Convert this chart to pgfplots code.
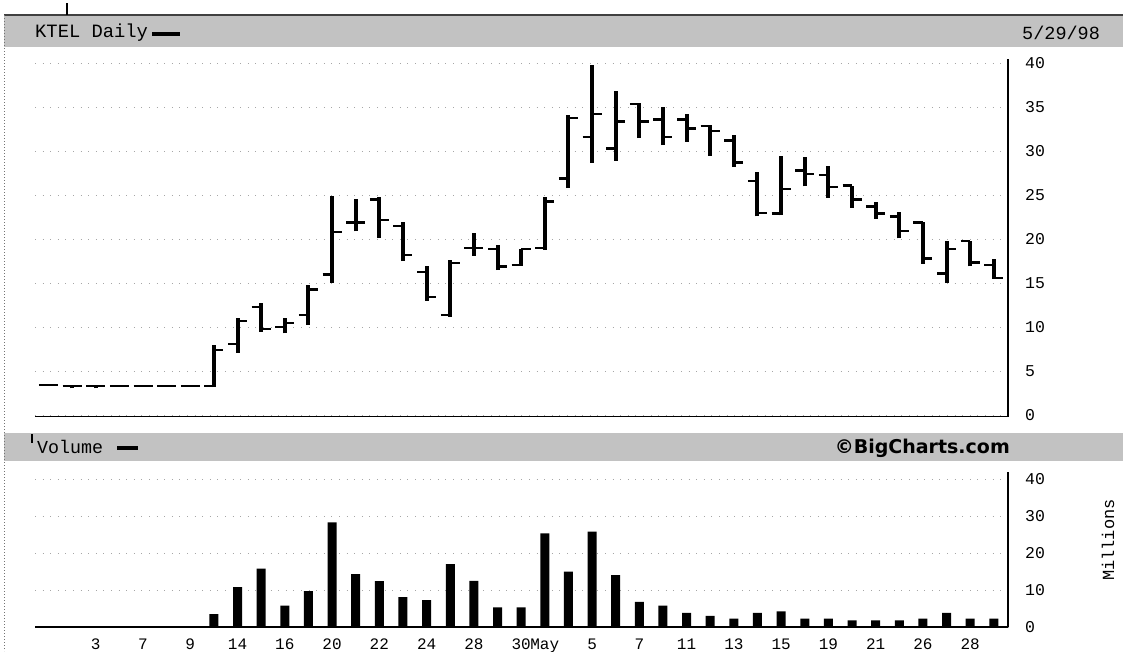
\documentclass[border=0pt]{standalone}
\usepackage{fontspec}
\setmainfont{Liberation Sans}
\newfontfamily\mono{Liberation Mono}
\newfontfamily\dvb{DejaVu Sans}
\usepackage{pgfplots}
\usepackage{pgfplotstable}
\pgfplotsset{compat=1.18}
\pgfdeclareplotmark{otick}{\pgfpathmoveto{\pgfpoint{-9.5pt}{0pt}}\pgfpathlineto{\pgfpoint{0pt}{0pt}}\pgfusepathqstroke}
\pgfdeclareplotmark{ctick}{\pgfpathmoveto{\pgfpoint{0pt}{0pt}}\pgfpathlineto{\pgfpoint{9.5pt}{0pt}}\pgfusepathqstroke}

% i = trading day (Apr 1 1998 = 0 ... May 29 1998 = 40); OHLC price, v = volume (millions)
\pgfplotstableread{
i o h l c v
0 3.45 3.5 3.4 3.45 0
1 3.3 3.3 3.05 3.3 0
2 3.3 3.3 3.05 3.3 0
3 3.3 3.35 3.3 3.3 0
4 3.3 3.35 3.3 3.3 0
5 3.3 3.35 3.3 3.3 0
6 3.3 3.35 3.3 3.3 0
7 3.3 8.0 3.2 7.4 3.5
8 8.1 11.0 7.1 10.7 10.8
9 12.3 12.8 9.5 9.8 15.8
10 10.0 11.0 9.3 10.5 5.8
11 11.4 14.8 10.3 14.3 9.7
12 16.0 24.9 15.0 20.8 28.3
13 21.9 24.6 20.9 21.9 14.3
14 24.5 24.8 20.1 22.2 12.4
15 21.5 22.0 17.5 18.2 8.1
16 16.3 17.0 13.0 13.4 7.3
17 11.4 17.6 11.2 17.3 17.0
18 19.0 20.7 18.1 19.0 12.5
19 18.9 19.3 16.5 16.9 5.3
20 17.1 18.9 17.0 18.9 5.3
21 19.0 24.8 18.8 24.3 25.3
22 26.9 34.1 25.8 33.8 15.0
23 31.6 39.8 28.7 34.2 25.8
24 30.3 36.9 28.9 33.4 14.0
25 35.4 35.5 31.5 33.4 6.8
26 33.6 35.0 30.7 31.6 5.8
27 33.6 34.2 31.1 32.6 3.8
28 32.9 33.0 29.5 32.3 3.0
29 31.2 31.8 28.2 28.7 2.3
30 26.6 27.6 22.6 23.0 3.8
31 22.9 29.4 22.7 25.7 4.2
32 27.8 29.3 26.0 27.4 2.3
33 27.3 28.3 24.7 25.9 2.3
34 26.1 26.1 23.6 24.5 1.8
35 23.7 24.2 22.3 22.9 1.8
36 22.6 23.1 20.1 20.9 1.8
37 21.9 22.0 17.2 17.8 2.3
38 16.1 19.8 15.0 18.9 3.8
39 19.8 19.8 16.9 17.35 2.3
40 17.1 17.8 15.5 15.6 2.3
}\ktel

\begin{document}
\begin{tikzpicture}
\useasboundingbox (0,0) rectangle (1123pt,-651pt);
\fill[white] (0,0) rectangle (1123pt,-651pt);
% header bands
\fill[black!24] (4pt,-15pt) rectangle (1123pt,-47pt);
\draw[black!75, line width=1.2pt] (4pt,-15pt) -- (1123pt,-15pt);
\fill[black!24] (4pt,-433pt) rectangle (1123pt,-461pt);
\draw[black!55, line width=0.8pt, dash pattern=on 1pt off 2pt] (4pt,-15pt) -- (4pt,-651pt);
\draw[line width=2.5pt] (67pt,-3pt) -- (67pt,-15pt);
\draw[line width=2pt] (32pt,-434pt) -- (32pt,-443pt);
\node[anchor=west, inner sep=0pt] at (35pt,-33pt) {\mono\fontsize{18.8}{20}\selectfont KTEL Daily};
\fill[black] (152pt,-31.5pt) rectangle (180pt,-35.5pt);
\node[anchor=west, inner sep=0pt] at (1022pt,-33pt) {\mono\fontsize{18.5}{20}\selectfont 5/29/98};
\node[anchor=west, inner sep=0pt] at (37pt,-447pt) {\mono\fontsize{18.3}{20}\selectfont Volume};
\fill[black] (117pt,-445.5pt) rectangle (138pt,-449.5pt);
\node[anchor=east, inner sep=0pt] at (1010pt,-448pt) {\dvb\bfseries\fontsize{19}{20}\selectfont \textcopyright BigCharts.com};
\node[rotate=90, inner sep=0pt] at (1108pt,-540pt) {\mono\fontsize{17}{18}\selectfont Millions};

\pgfplotsset{
  kstyle/.style={
    scale only axis, anchor=south west, width=973pt,
    xmin=-0.57, xmax=40.6,
    axis x line*=bottom, axis y line*=right,
    x axis line style={line width=1.6pt}, y axis line style={line width=1.2pt},
    major tick length=0pt,
    /pgf/number format/assume math mode=true,
    yticklabel style={anchor=west, inner sep=0pt, xshift=17pt, font=\mono\fontsize{16.5}{18}\selectfont},
    xticklabel style={anchor=north, inner sep=0pt, yshift=-12pt, font=\mono\fontsize{16}{18}\selectfont},
    ymajorgrids, grid style={black!35, line width=0.6pt, dash pattern=on 0.6pt off 7pt},
    clip=false,
  }
}

\begin{axis}[kstyle, at={(35pt,-416.5pt)}, height=357.5pt,
  ymin=-0.15, ymax=40.48, ytick={0,5,...,40}, xtick=\empty]
  \addplot[black, line width=4pt, quiver={u=0, v=\thisrow{h}-\thisrow{l}}] table[x=i, y=l] {\ktel};
  \addplot[black, only marks, mark=otick, mark options={line width=2.4pt}] table[x=i, y=o] {\ktel};
  \addplot[black, only marks, mark=ctick, mark options={line width=2.4pt}] table[x=i, y=c] {\ktel};
\end{axis}

\begin{axis}[kstyle, at={(35pt,-627pt)}, height=155.4pt,
  ymin=0, ymax=42, ytick={0,10,20,30,40},
  xtick={2,4,6,8,10,12,14,16,18,20,21,23,25,27,29,31,33,35,37,39},
  xticklabels={3,7,9,14,16,20,22,24,28,30,May,5,7,11,13,15,19,21,26,28}]
  \addplot[ybar, bar width=9pt, fill=black, draw=none] table[x=i, y=v] {\ktel};
\end{axis}
\end{tikzpicture}
\end{document}
